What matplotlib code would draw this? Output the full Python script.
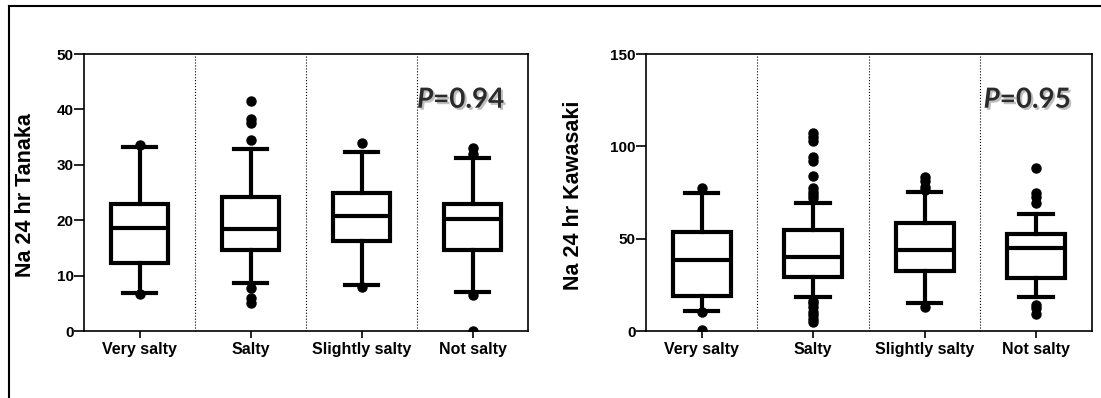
import matplotlib.pyplot as plt
import matplotlib.patheffects as pe
from matplotlib.lines import Line2D

plt.rcParams['font.family'] = ['Liberation Sans', 'DejaVu Sans']
plt.rcParams['font.weight'] = 'bold'

categories = ['Very salty', 'Salty', 'Slightly salty', 'Not salty']

# Tanaka (left panel)
tanaka_q1 = [12.2, 14.6, 16.3, 14.6]
tanaka_med = [18.6, 18.4, 20.8, 20.3]
tanaka_q3 = [23.0, 24.2, 25.0, 23.0]
tanaka_lo = [6.9, 8.7, 8.3, 7.0]
tanaka_hi = [33.2, 32.9, 32.3, 31.2]
tanaka_fliers = [
    [33.5, 6.6],
    [41.5, 38.2, 37.5, 34.5, 7.7, 5.9, 5.1],
    [33.9, 8.0],
    [33.0, 31.9, 6.5, 0.0],
]
tanaka_p = 'P=0.94'

# Kawasaki (right panel)
kawa_q1 = [19.1, 29.4, 32.6, 28.5]
kawa_med = [38.4, 40.2, 43.9, 44.8]
kawa_q3 = [53.8, 54.7, 58.3, 52.4]
kawa_lo = [10.8, 18.2, 15.3, 18.6]
kawa_hi = [74.5, 69.1, 75.1, 63.3]
kawa_fliers = [
    [77.6, 10.5, 0.7],
    [107.4, 105.2, 103.0, 94.4, 92.2, 84.1, 77.2, 75.4, 73.6, 71.8,
     16.5, 15.0, 13.2, 10.5, 8.7, 6.3, 5.0],
    [83.5, 81.4, 78.1, 76.3, 13.2],
    [88.4, 74.9, 72.7, 69.1, 14.1, 12.3, 9.0],
]
kawa_p = 'P=0.95'


def draw_panel(ax, q1, med, q3, lo, hi, fliers, ymax, yticks, ylabel, ptext, ptext_x, label_x):
    stats = []
    for i in range(len(categories)):
        stats.append(dict(med=med[i], q1=q1[i], q3=q3[i], whislo=lo[i], whishi=hi[i], fliers=fliers[i]))
    lw = 3.0
    ax.bxp(stats, positions=[1, 2, 3, 4], widths=0.52, capwidths=0.3, patch_artist=True,
           boxprops=dict(facecolor='white', edgecolor='black', linewidth=lw),
           medianprops=dict(color='black', linewidth=lw),
           whiskerprops=dict(color='black', linewidth=lw),
           capprops=dict(color='black', linewidth=lw),
           flierprops=dict(marker='o', markerfacecolor='black', markeredgecolor='black', markersize=6.5),
           zorder=3)
    for x in [1.5, 2.5, 3.5]:
        ax.axvline(x, color='black', linestyle=':', linewidth=0.8, zorder=1)
    ax.set_xlim(0.5, 4.5)
    ax.set_ylim(0, ymax)
    ax.set_yticks(yticks)
    ax.set_xticks([1, 2, 3, 4])
    ax.set_xticklabels(categories, fontsize=11.5, fontweight='bold')
    ax.tick_params(axis='y', labelsize=11, length=7, width=1.2, pad=0.5)
    ax.tick_params(axis='x', length=5, width=1.2, pad=3)
    for s in ax.spines.values():
        s.set_linewidth(1.2)
    ax.set_ylabel(ylabel, fontsize=15.5, fontweight='bold')
    ax.yaxis.set_label_coords(label_x, 0.49)

    # P value: italic P followed by upright "=value", with a soft shadow
    pfont = dict(fontsize=20, fontweight='bold', family=['Lato', 'DejaVu Sans'], color='#2b2b2b')
    px = ax.text(ptext_x, 0.835, 'P', transform=ax.transAxes, style='italic',
                 va='center', ha='left', **pfont)
    px2 = ax.annotate('=' + ptext.split('=')[1], xy=(1, 0.5), xycoords=px, va='center', ha='left',
                      **pfont)
    shadow = [pe.withSimplePatchShadow(offset=(1.5, -1.5), shadow_rgbFace='gray', alpha=0.5)]
    px.set_path_effects(shadow)
    px2.set_path_effects(shadow)


fig = plt.figure(figsize=(11.01, 3.98), dpi=100)
ax1 = fig.add_axes([0.0763, 0.1683, 0.4033, 0.696])
ax2 = fig.add_axes([0.5867, 0.1683, 0.4051, 0.696])

draw_panel(ax1, tanaka_q1, tanaka_med, tanaka_q3, tanaka_lo, tanaka_hi, tanaka_fliers,
           50, [0, 10, 20, 30, 40, 50], 'Na 24 hr Tanaka', tanaka_p, 0.75, -0.108)
draw_panel(ax2, kawa_q1, kawa_med, kawa_q3, kawa_lo, kawa_hi, kawa_fliers,
           150, [0, 50, 100, 150], 'Na 24 hr Kawasaki', kawa_p, 0.757, -0.139)

# outer frame (left and top edges only)
fig.add_artist(Line2D([0.0082, 0.0082], [0, 0.985], color='black', linewidth=1.5, transform=fig.transFigure))
fig.add_artist(Line2D([0.0082, 1.0], [0.985, 0.985], color='black', linewidth=1.5, transform=fig.transFigure))

fig.savefig('out.png', dpi=100)
